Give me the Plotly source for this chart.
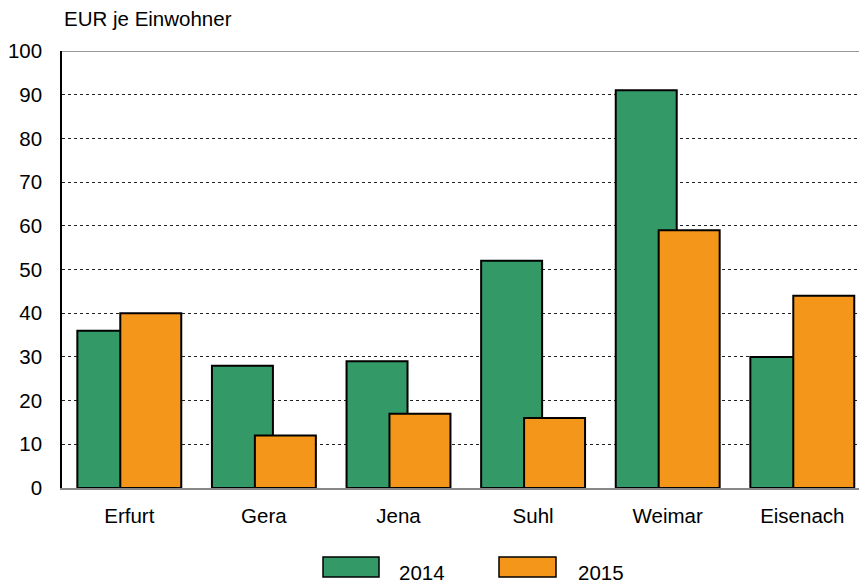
import plotly.graph_objects as go

categories = ["Erfurt", "Gera", "Jena", "Suhl", "Weimar", "Eisenach"]
values_2014 = [36, 28, 29, 52, 91, 30]
values_2015 = [40, 12, 17, 16, 59, 44]
series_names = ["2014", "2015"]
colors = ["#339966", "#F39619"]
y_ticks = [0, 10, 20, 30, 40, 50, 60, 70, 80, 90, 100]

W, H = 859, 583
L, R, T, B = 62, 0, 51, 95
pw, ph = W - L - R, H - T - B
cat_px = 134.6  # pixel width of one category slot

fig = go.Figure()
xs = list(range(len(categories)))
fig.add_trace(go.Bar(x=xs, y=values_2014, name=series_names[0], width=0.453, offset=-0.386,
                     marker=dict(color=colors[0], line=dict(color="black", width=2)), showlegend=False))
fig.add_trace(go.Bar(x=xs, y=values_2015, name=series_names[1], width=0.453, offset=-0.067,
                     marker=dict(color=colors[1], line=dict(color="black", width=2)), showlegend=False))

font = "Liberation Sans, Arial, sans-serif"
fs = 20.5
fig.update_layout(
    width=W, height=H, barmode="overlay",
    margin=dict(l=L, r=R, t=T, b=B, pad=0),
    plot_bgcolor="white", paper_bgcolor="white",
    font=dict(family=font, size=fs, color="black"),
    xaxis=dict(range=[-0.5, -0.5 + pw / cat_px], tickvals=xs, ticktext=categories, showgrid=False,
               showline=True, linecolor="#888888", linewidth=2, ticks="outside", ticklen=8,
               tickcolor="rgba(0,0,0,0)", zeroline=False, fixedrange=True),
    yaxis=dict(range=[0, 100], tickvals=y_ticks, showgrid=True, gridcolor="#222222", griddash="dot",
               gridwidth=1, showline=True, linecolor="black", linewidth=1.5, ticks="outside", ticklen=14,
               tickcolor="rgba(0,0,0,0)", zeroline=False),
    showlegend=False,
)
# top border line at 100
fig.add_shape(type="line", xref="paper", yref="y", x0=0, x1=1, y0=100, y1=100,
              line=dict(color="#999999", width=2))
fig.add_annotation(text="EUR je Einwohner", xref="paper", yref="paper", x=0, y=1 + 19/ph,
                   xanchor="left", yanchor="bottom", showarrow=False, font=dict(size=fs))

# custom legend
def px(x):
    return (x - L) / pw

def py(y):
    return (H - B - y) / ph

for name, col, x0, x1, tx in [(series_names[0], colors[0], 323, 379, 397),
                              (series_names[1], colors[1], 499, 556, 576)]:
    fig.add_shape(type="rect", xref="paper", yref="paper", x0=px(x0), x1=px(x1), y0=py(557), y1=py(577),
                  fillcolor=col, line=dict(color="black", width=1.5))
    fig.add_annotation(text=name, xref="paper", yref="paper", x=px(tx), y=py(572), xanchor="left",
                       yanchor="middle", showarrow=False, font=dict(size=fs))

fig.write_html("out.html", config={"displayModeBar": False},
               post_script="document.body.style.margin='0';")
